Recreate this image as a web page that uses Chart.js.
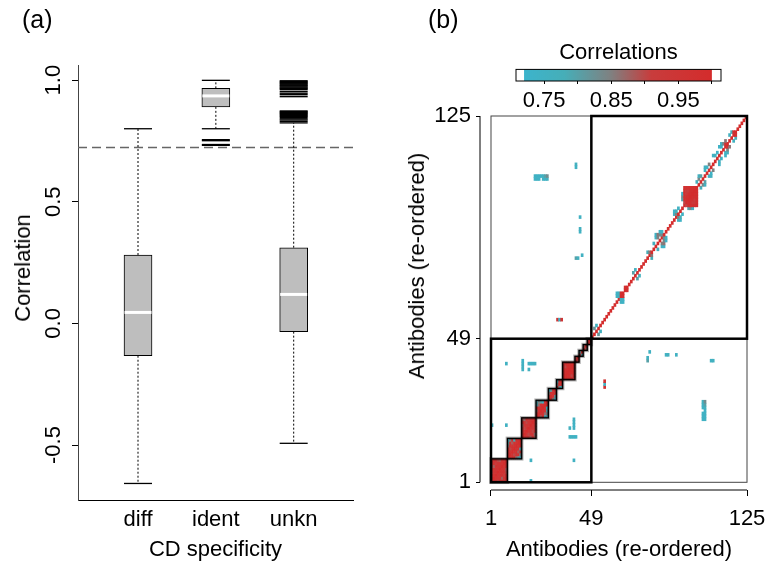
<!DOCTYPE html>
<html lang="en">
<head>
  <meta charset="UTF-8">
  <title>Antibody correlations</title>
  <script src="https://cdn.jsdelivr.net/npm/chart.js@4"></script>
  <style>
    body { margin: 0; background: #fff; font-family: 'Liberation Sans', Arial, sans-serif; }
    #page { position: relative; width: 767px; height: 562px; overflow: hidden; }
    #page canvas { position: absolute; }
    .txt { position: absolute; font-size: 22px; line-height: 22px; color: #000; white-space: nowrap; }
    .panel { font-size: 25px; line-height: 25px; }
    .ctr { transform: translateX(-50%); }
    .rot { transform: translate(-50%, -50%) rotate(-90deg); }
  </style>
</head>
<body>
<div id="page">
  <canvas id="boxChart" width="380" height="562" style="left:0;top:0"></canvas>
  <canvas id="heatChart" width="367" height="562" style="left:400px;top:0"></canvas>
  <canvas id="keyChart" width="240" height="85" style="left:497px;top:30px"></canvas>

  <div class="txt panel" style="left:22px;top:7px">(a)</div>
  <div class="txt panel" style="left:428px;top:7px">(b)</div>
  <div class="txt rot" style="left:22.5px;top:268px">Correlation</div>
  <div class="txt ctr" style="left:215.5px;top:538px">CD specificity</div>
  <div class="txt rot" style="left:417px;top:266px">Antibodies (re-ordered)</div>
  <div class="txt ctr" style="left:619px;top:538px">Antibodies (re-ordered)</div>
</div>

<script>
  // ---- (a) boxplot data ----
  const groups = ['diff', 'ident', 'unkn'];
  const lowerWhisker = [-0.658, 0.800, -0.493];
  const lowerHinge   = [-0.133, 0.890, -0.034];
  const medians      = [0.045, 0.935, 0.119];
  const upperHinge   = [0.281, 0.966, 0.311];
  const upperWhisker = [0.800, 0.999, 0.824];
  const outliersIdent = [0.755, 0.751, 0.735, 0.732];
  const outliersUnkn = [0.997, 0.994, 0.990, 0.987, 0.983, 0.979, 0.976, 0.972, 0.968, 0.965,
                        0.961, 0.953, 0.946, 0.940, 0.932,
                        0.873, 0.870, 0.866, 0.863, 0.859, 0.855, 0.851, 0.847, 0.841, 0.836, 0.830];
  const cutoff = 0.723;
  const corrTicks = [-0.5, 0, 0.5, 1];

  // ---- (b) correlation matrix data (antibodies 1..125, split after 49) ----
  const nAb = 125;
  const groupEnd = 49;
  const clusterBlocks = [[1,8],[9,15],[16,22],[23,28],[29,32],[33,35],[36,41],[42,43],[44,45],[46,47],[48,49]];
  const clusterCorr = [0.96, 0.96, 0.95, 0.96, 0.96, 0.95, 0.98, 0.95, 0.96, 0.97, 0.97];
  const redBlocks = [[64,65],[66,67],[95,101],[115,116],[119,120]];
  const redCorr = [0.97, 0.97, 0.98, 0.96, 0.97];
  // single pairs (i < j) above the 0.72 cut-off, the matrix is symmetric
  const pairCorr = [
    [1,4,0.90],[2,6,0.88],[3,7,0.91],[5,8,0.89],[1,7,0.92],[4,8,0.90],
    [9,15,0.75],[9,14,0.80],[9,13,0.86],[10,15,0.84],[11,14,0.88],[12,15,0.78],[10,12,0.90],
    [16,20,0.88],[17,22,0.87],[18,21,0.90],[16,22,0.89],[19,22,0.91],[17,19,0.90],
    [23,27,0.76],[23,28,0.78],[24,28,0.85],[23,25,0.88],[25,28,0.80],[26,28,0.76],[24,27,0.87],
    [29,32,0.76],[29,31,0.86],[30,32,0.82],
    [33,35,0.76],[33,34,0.84],
    [36,41,0.92],[37,40,0.90],
    [42,43,0.90],[44,45,0.80],[46,47,0.88],
    [1,20,0.75],[8,20,0.75],[8,41,0.75],[16,39,0.75],[16,40,0.76],[16,41,0.75],[16,42,0.74],
    [19,39,0.76],[19,41,0.75],[20,41,0.74],[21,41,0.75],[22,41,0.76],
    [22,104,0.74],[23,104,0.75],[24,104,0.74],[26,104,0.75],[27,104,0.74],[28,104,0.76],
    [22,105,0.75],[23,105,0.74],[24,105,0.75],[25,105,0.74],[26,105,0.76],[27,105,0.80],[28,105,0.83],
    [33,56,0.96],[34,56,0.75],[35,56,0.95],
    [42,77,0.80],[43,77,0.76],[45,78,0.75],[44,86,0.75],[44,87,0.76],[44,91,0.75],[42,108,0.75],[42,109,0.76],
    [51,53,0.82],[52,54,0.76],
    [62,64,0.75],[62,65,0.74],[63,64,0.76],[63,65,0.75],
    [70,72,0.80],[71,73,0.76],
    [77,79,0.78],[78,79,0.86],
    [80,82,0.76],[81,84,0.75],[81,85,0.74],[82,84,0.85],[82,85,0.86],[83,85,0.84],[84,85,0.83],[84,86,0.75],[83,86,0.74],
    [90,92,0.76],[91,93,0.78],[92,94,0.75],[90,93,0.74],[91,92,0.85],
    [94,97,0.80],[94,98,0.83],[94,99,0.75],[95,96,0.90],[96,100,0.92],[96,99,0.92],[97,100,0.91],
    [101,103,0.77],[102,104,0.84],[103,105,0.80],[102,105,0.76],
    [105,107,0.75],[106,108,0.74],[107,109,0.85],[105,108,0.76],
    [109,112,0.75],[110,112,0.76],[111,113,0.74],
    [112,115,0.74],[113,115,0.75],[113,116,0.76],[114,116,0.84],[115,117,0.86],
    [117,119,0.76],[118,120,0.78]
  ];
  const abTicks = [0, 49, 125];
  const abLabels = ['1', '49', '125'];

  // colour key
  const colorStops = [0.72, 0.78, 0.85, 0.91, 1.0];
  const colorRGB = [[60,180,204],[70,174,184],[128,128,128],[200,60,60],[212,44,44]];
  const keyTicks = [0.75, 0.80, 0.85, 0.90, 0.95, 1.00];
  const keyLabelled = [0.75, 0.85, 0.95];

  Chart.defaults.font.family = "'Liberation Sans', Arial, sans-serif";
  Chart.defaults.font.size = 22;
  Chart.defaults.color = '#000';
  Chart.defaults.animation = false;
  Chart.defaults.plugins.legend.display = false;
  Chart.defaults.plugins.tooltip.enabled = false;

  function corrColor(r) {
    let k = 0;
    while (k < colorStops.length - 2 && r > colorStops[k + 1]) k++;
    const t = Math.min(1, Math.max(0, (r - colorStops[k]) / (colorStops[k + 1] - colorStops[k])));
    const c = colorRGB[k].map((a, n) => Math.round(a + t * (colorRGB[k + 1][n] - a)));
    return 'rgb(' + c.join(',') + ')';
  }

  // keep Chart.js from adding room for overhanging end labels
  const noLabelPad = s => { s.paddingLeft = 0; s.paddingRight = 0; s.paddingTop = 0; s.paddingBottom = 0; };

  // ================= (a) boxplot =================
  const pos = groups.map((g, i) => i + 1);
  const xLim = [0.229, 3.762];
  const yLim = [-0.726, 1.062];

  const whiskerPts = [];
  pos.forEach((x, i) => {
    whiskerPts.push({x, y: upperHinge[i]}, {x, y: upperWhisker[i]}, {x, y: null},
                    {x, y: lowerHinge[i]}, {x, y: lowerWhisker[i]}, {x, y: null});
  });
  const capPts = pos.flatMap((x, i) => [{x, y: upperWhisker[i]}, {x, y: lowerWhisker[i]}]);
  const outPts = outliersIdent.map(y => ({x: 2, y})).concat(outliersUnkn.map(y => ({x: 3, y})));

  const hline = (color, width) => ({ type: 'scatter', pointStyle: 'line', pointRadius: 14,
    pointBorderColor: color, pointBorderWidth: width, pointHoverRadius: 14 });

  new Chart(document.getElementById('boxChart'), {
    type: 'bar',
    data: {
      datasets: [
        { type: 'bar', data: pos.map((x, i) => ({x, y: [lowerHinge[i], upperHinge[i]]})),
          backgroundColor: '#bebebe', borderColor: '#000', borderWidth: 1, borderSkipped: false,
          barThickness: 28, order: 1 },
        Object.assign(hline('#fff', 3), { data: pos.map((x, i) => ({x, y: medians[i]})), pointRadius: 13.5, order: 0 }),
        { type: 'line', data: whiskerPts, borderColor: '#000', borderWidth: 1, borderDash: [2, 2],
          pointRadius: 0, order: 2 },
        Object.assign(hline('#000', 1.3), { data: capPts, order: 2 }),
        Object.assign(hline('#000', 1.4), { data: outPts, order: 2 }),
        { type: 'line', data: [{x: xLim[0], y: cutoff}, {x: xLim[1], y: cutoff}],
          borderColor: '#666', borderWidth: 1.5, borderDash: [9, 5], pointRadius: 0, order: 3 }
      ]
    },
    options: {
      responsive: false,
      layout: { padding: { top: 65, right: 27, left: 0, bottom: 0 } },
      scales: {
        x: {
          type: 'linear', min: xLim[0], max: xLim[1], offset: false,
          afterBuildTicks: s => { s.ticks = pos.map(v => ({value: v})); },
          ticks: { callback: v => groups[v - 1], padding: 7, maxRotation: 0, autoSkip: false },
          grid: { display: false, drawTicks: false, offset: false },
          border: { display: true, color: '#000', width: 1 },
          afterFit: s => { s.height = 62; noLabelPad(s); }
        },
        y: {
          type: 'linear', min: yLim[0], max: yLim[1],
          afterBuildTicks: s => { s.ticks = corrTicks.map(v => ({value: v})); },
          ticks: { callback: v => v.toFixed(1), minRotation: 90, maxRotation: 90, crossAlign: 'center', padding: -1 },
          grid: { drawOnChartArea: false, tickLength: 6, color: '#000' },
          border: { display: true, color: '#444', width: 1 },
          afterFit: s => { s.width = 78; noLabelPad(s); }
        }
      }
    }
  });

  // ================= (b) heat map =================
  const M = Array.from({length: nAb}, () => new Array(nAb).fill(null));
  const fillBlock = (s, e, r) => {
    for (let i = s; i <= e; i++) for (let j = s; j <= e; j++) M[i - 1][j - 1] = r;
  };
  clusterBlocks.forEach((b, k) => fillBlock(b[0], b[1], clusterCorr[k]));
  redBlocks.forEach((b, k) => fillBlock(b[0], b[1], redCorr[k]));
  pairCorr.forEach(([i, j, r]) => { M[i - 1][j - 1] = r; M[j - 1][i - 1] = r; });
  for (let i = 0; i < nAb; i++) M[i][i] = 1;

  const cells = [];
  M.forEach((row, i) => row.forEach((r, j) => {
    if (r !== null) cells.push({x: j + 0.5, y: [i, i + 1], r});
  }));

  const heatFrame = {
    id: 'heatFrame',
    afterDatasetsDraw(chart) {
      const {ctx, chartArea, scales: {x, y}} = chart;
      const square = (a, b, lw, col) => {
        const x0 = x.getPixelForValue(a), x1 = x.getPixelForValue(b);
        const y0 = y.getPixelForValue(a), y1 = y.getPixelForValue(b);
        ctx.lineWidth = lw;
        ctx.strokeStyle = col;
        ctx.strokeRect(x0, y1, x1 - x0, y0 - y1);
      };
      ctx.save();
      square(0, nAb, 1, '#444');
      clusterBlocks.forEach(([s, e]) => square(s - 1, e, 3.5, 'rgba(0,0,0,0.3)'));
      clusterBlocks.forEach(([s, e]) => square(s - 1, e, 1.3, '#000'));
      square(0, groupEnd, 2.5, '#000');
      square(groupEnd, nAb, 2.5, '#000');
      // R style axis lines, running from first to last tick only
      const first = abTicks[0], last = abTicks[abTicks.length - 1];
      ctx.lineWidth = 1;
      ctx.strokeStyle = '#000';
      ctx.beginPath();
      ctx.moveTo(chartArea.left, y.getPixelForValue(first));
      ctx.lineTo(chartArea.left, y.getPixelForValue(last));
      ctx.moveTo(x.getPixelForValue(first), chartArea.bottom);
      ctx.lineTo(x.getPixelForValue(last), chartArea.bottom);
      ctx.stroke();
      ctx.restore();
    }
  };

  new Chart(document.getElementById('heatChart'), {
    type: 'bar',
    data: {
      datasets: [{
        data: cells,
        backgroundColor: c => (c.raw ? corrColor(c.raw.r) : '#fff'),
        borderWidth: 0, barPercentage: 1, categoryPercentage: 1
      }]
    },
    options: {
      responsive: false,
      layout: { padding: { top: 116, right: 20, left: 0, bottom: 0 } },
      scales: {
        x: {
          type: 'linear', min: -5.37, max: nAb, offset: false,
          afterBuildTicks: s => { s.ticks = abTicks.map(v => ({value: v})); },
          ticks: { callback: (v, i) => abLabels[i], padding: 10, maxRotation: 0, autoSkip: false },
          grid: { drawOnChartArea: false, tickLength: 6, color: '#000', offset: false },
          border: { display: false },
          afterFit: s => { s.height = 72; noLabelPad(s); }
        },
        y: {
          type: 'linear', min: -2.63, max: nAb,
          afterBuildTicks: s => { s.ticks = abTicks.map(v => ({value: v})); },
          ticks: { callback: (v, i) => abLabels[i], padding: 5, autoSkip: false },
          grid: { drawOnChartArea: false, tickLength: 4, color: '#000' },
          border: { display: false },
          afterFit: s => { s.width = 80; noLabelPad(s); }
        }
      }
    },
    plugins: [heatFrame]
  });

  // ================= colour key =================
  const colorKey = {
    id: 'colorKey',
    afterDraw(chart) {
      const {ctx, chartArea: a, scales: {x}} = chart;
      const lo = colorStops[0], hi = colorStops[colorStops.length - 1];
      const x0 = x.getPixelForValue(lo), x1 = x.getPixelForValue(hi);
      const g = ctx.createLinearGradient(x0, 0, x1, 0);
      colorStops.forEach((s, k) => g.addColorStop((s - lo) / (hi - lo), 'rgb(' + colorRGB[k].join(',') + ')'));
      ctx.save();
      ctx.fillStyle = g;
      ctx.fillRect(x0, a.top, x1 - x0, a.bottom - a.top);
      ctx.strokeStyle = '#000';
      ctx.lineWidth = 1;
      ctx.strokeRect(a.left, a.top, a.right - a.left, a.bottom - a.top);
      ctx.restore();
    }
  };

  new Chart(document.getElementById('keyChart'), {
    type: 'scatter',
    data: { datasets: [] },
    options: {
      responsive: false,
      layout: { padding: { top: 10, left: 19, right: 16, bottom: 0 } },
      plugins: {
        title: { display: true, text: 'Correlations', color: '#000',
                 font: { size: 22, weight: 'normal' }, padding: { top: 0, bottom: 3 } }
      },
      scales: {
        x: {
          type: 'linear', min: 0.708, max: 1.0136,
          afterBuildTicks: s => { s.ticks = keyTicks.map(v => ({value: v})); },
          ticks: { callback: v => (keyLabelled.includes(v) ? v.toFixed(2) : ''), padding: 4, maxRotation: 0, autoSkip: false },
          grid: { drawOnChartArea: false, tickLength: 3, color: '#000' },
          border: { display: false },
          afterFit: s => { s.height = 34; noLabelPad(s); }
        },
        y: { display: false }
      }
    },
    plugins: [colorKey]
  });
</script>
</body>
</html>
